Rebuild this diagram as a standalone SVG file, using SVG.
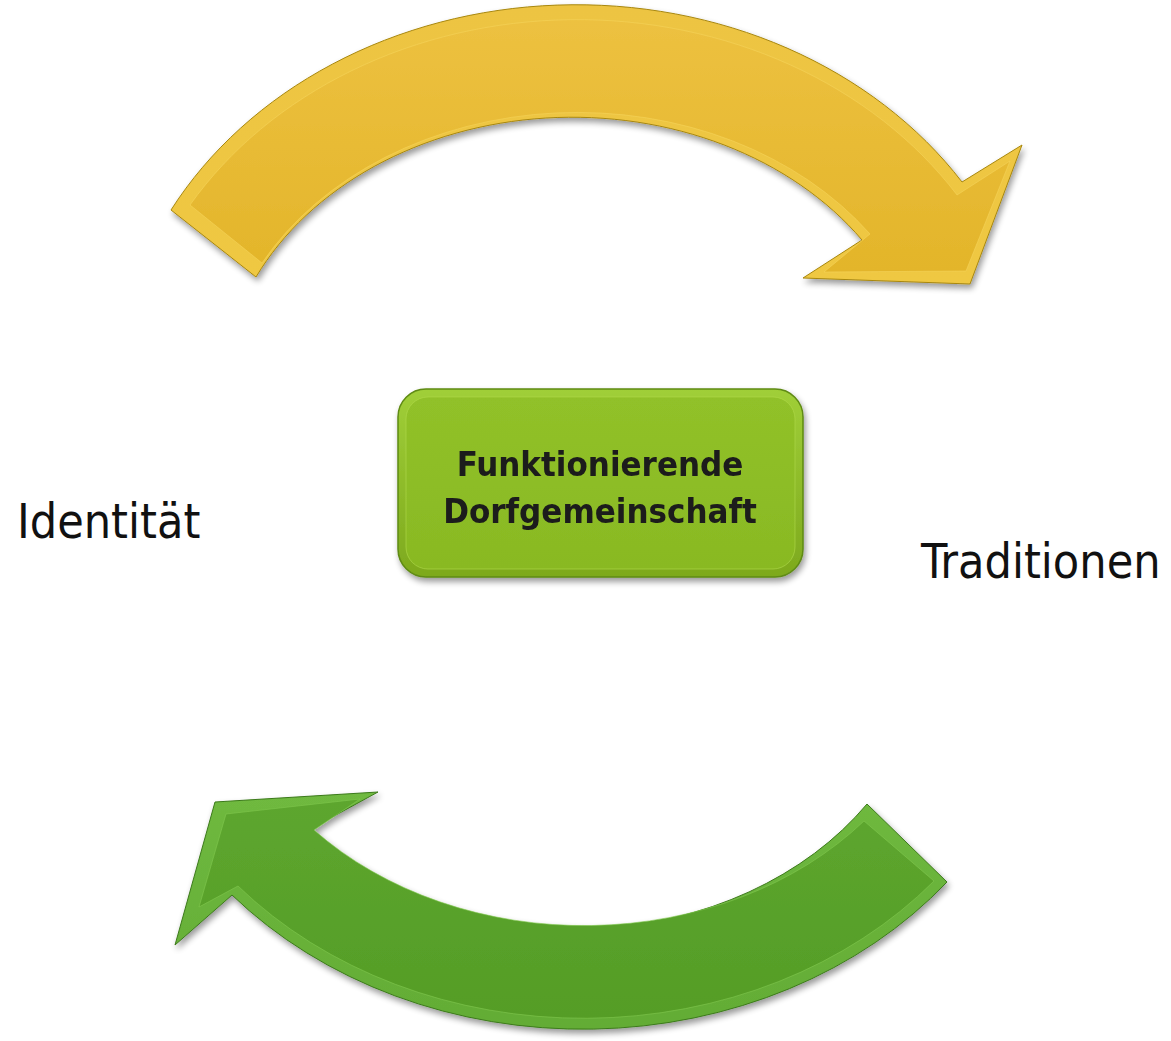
<svg xmlns="http://www.w3.org/2000/svg" width="1171" height="1041" viewBox="0 0 1171 1041">
<defs>
<filter id="shadow" x="-10%" y="-10%" width="125%" height="130%">
<feGaussianBlur in="SourceAlpha" stdDeviation="3"/>
<feOffset dx="2" dy="4" result="o"/>
<feComponentTransfer><feFuncA type="linear" slope="0.4"/></feComponentTransfer>
<feMerge><feMergeNode/><feMergeNode in="SourceGraphic"/></feMerge>
</filter>
<linearGradient id="yRim" x1="0" y1="0" x2="0" y2="1">
<stop offset="0" stop-color="#EDC443"/><stop offset="1" stop-color="#EFC842"/>
</linearGradient>
<linearGradient id="yFace" x1="0" y1="0" x2="0" y2="1">
<stop offset="0" stop-color="#EDC140"/><stop offset="1" stop-color="#E3B52A"/>
</linearGradient>
<linearGradient id="gRim" x1="0" y1="0" x2="0" y2="1">
<stop offset="0" stop-color="#6FB93F"/><stop offset="1" stop-color="#63AC35"/>
</linearGradient>
<linearGradient id="gFace" x1="0" y1="0" x2="0" y2="1">
<stop offset="0" stop-color="#5DA62F"/><stop offset="1" stop-color="#559D26"/>
</linearGradient>
<linearGradient id="bRim" x1="0" y1="0" x2="0" y2="1">
<stop offset="0" stop-color="#A0CF38"/><stop offset="1" stop-color="#7DA91D"/>
</linearGradient>
<linearGradient id="bFace" x1="0" y1="0" x2="0" y2="1">
<stop offset="0" stop-color="#91C129"/><stop offset="1" stop-color="#89B923"/>
</linearGradient>
<style>
.label{font-family:"DejaVu Sans Condensed","DejaVu Sans",sans-serif;font-size:48px;fill:#111}
.boxtext{font-family:"DejaVu Sans Condensed","DejaVu Sans",sans-serif;font-weight:bold;font-size:34.5px;fill:#1a1a1a;text-anchor:middle}
.yBase{fill:url(#yRim);stroke:#A8870F;stroke-width:1}
.yTop{fill:url(#yFace);stroke:#F5D45A;stroke-width:1;stroke-opacity:0.6}
.gBase{fill:url(#gRim);stroke:#3C7A1A;stroke-width:1}
.gTop{fill:url(#gFace);stroke:#80C84F;stroke-width:1;stroke-opacity:0.6}
</style>
</defs>
<rect width="1171" height="1041" fill="#ffffff"/>

<g id="connectors">
<g id="arrow-top" filter="url(#shadow)">
<path class="yBase" d="M171,210 A461,392 0 0 1 962,182 L1022,145 L970,284 L803,278 L862,240 A351,282 0 0 0 256,277 Z"/>
<path class="yTop" d="M190,205 A452,383 0 0 1 957,195 L1010,161 L966,271 L824,272 L870,234 A360,291 0 0 0 262,263 Z"/>
</g>
<g id="arrow-bottom" filter="url(#shadow)">
<path class="gBase" d="M215,802 L378,792 L303,833 A355,281 0 0 0 867,804 L947,882 A466,392 0 0 1 232,895 L175,945 Z"/>
<path class="gTop" d="M226,814 L360,799 L314,830 A364,290 0 0 0 864,821 L934,881 A457,383 0 0 1 238,886 L199,907 Z"/>
</g>
</g>

<g id="node-center" filter="url(#shadow)">
<rect x="398" y="389" width="405" height="188" rx="28" fill="url(#bRim)" stroke="#5E8A12" stroke-width="1.5"/>
<rect x="406" y="397" width="389" height="172" rx="22" fill="url(#bFace)" stroke="#B0DA4A" stroke-width="1" stroke-opacity="0.6"/>
<text class="boxtext" x="600" y="476">Funktionierende</text>
<text class="boxtext" x="600" y="523">Dorfgemeinschaft</text>
</g>

<g id="node-identitaet">
<text class="label" x="17" y="538">Identität</text>
</g>
<g id="node-traditionen">
<text class="label" x="921" y="578">Traditionen</text>
</g>
</svg>
